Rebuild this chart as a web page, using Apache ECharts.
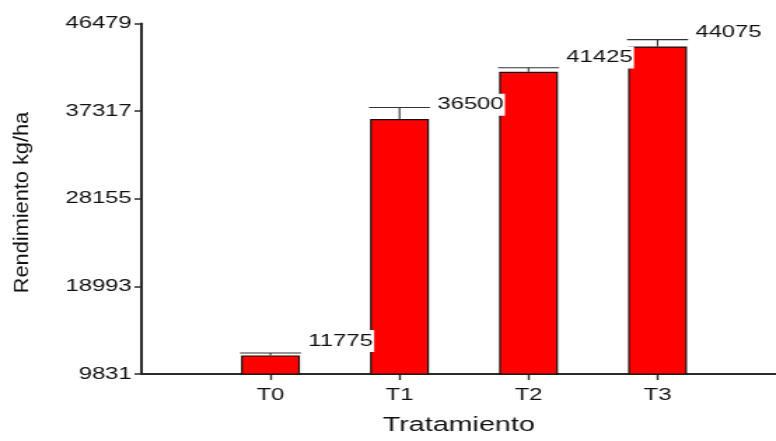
<!DOCTYPE html>
<html>
<head>
<meta charset="utf-8">
<script src="https://cdn.jsdelivr.net/npm/echarts@6/dist/echarts.min.js"></script>
<style>
  html, body { margin: 0; padding: 0; background: #fff; }
  #wrap { width: 776px; height: 441px; overflow: hidden; position: relative; }
  /* the chart is laid out narrow and widened horizontally */
  #chart { width: 554px; height: 441px; transform: scaleX(1.40072); transform-origin: 0 0; }
</style>
</head>
<body>
<div id="wrap"><div id="chart"></div></div>
<script>
// Treatments and mean yield (kg/ha)
const categories = ['T0', 'T1', 'T2', 'T3'];
const rendimiento = [11775, 36500, 41425, 44075];
// upper error bar length (kg/ha)
const errorSuperior = [250, 1200, 430, 720];
// y-axis tick values
const yTicks = [9831, 18993, 28155, 37317, 46479];

const FONT = '"Liberation Sans", Arial, sans-serif';
const positions = categories.map((c, i) => i + 1);
const barData = positions.map((p, i) => [p, rendimiento[i]]);
const errData = positions.map((p, i) => [p, rendimiento[i], errorSuperior[i]]);

const chart = echarts.init(document.getElementById('chart'));

chart.setOption({
  animation: false,
  backgroundColor: '#fff',
  grid: { left: 101, right: 0, top: 23.5, height: 357.5, containLabel: false },
  xAxis: {
    type: 'value',
    min: 0,
    max: 4.918,
    interval: 1,
    splitLine: { show: false },
    axisLine: { show: true, onZero: false, lineStyle: { color: '#2b2b2b', width: 2 } },
    axisTick: { show: true, customValues: positions, length: 6, lineStyle: { color: '#2b2b2b', width: 1.4 } },
    axisLabel: {
      customValues: positions,
      margin: 13,
      color: '#111',
      fontFamily: FONT,
      fontSize: 17,
      formatter: v => categories[Math.round(v) - 1] || ''
    },
    name: 'Tratamiento',
    nameLocation: 'middle',
    nameGap: 41,
    nameTextStyle: { color: '#111', fontFamily: FONT, fontSize: 20.5 }
  },
  yAxis: {
    type: 'value',
    min: yTicks[0],
    max: yTicks[yTicks.length - 1],
    splitLine: { show: false },
    axisLine: { show: true, lineStyle: { color: '#2b2b2b', width: 2 } },
    axisTick: { show: true, customValues: yTicks, length: 5, lineStyle: { color: '#2b2b2b', width: 1.5 } },
    axisLabel: {
      customValues: yTicks,
      margin: 7,
      color: '#111',
      fontFamily: FONT,
      fontSize: 17,
      formatter: v => String(v)
    }
  },
  graphic: [{
    type: 'text',
    x: 15.6,
    y: 202.5,
    rotation: Math.PI / 2,
    scaleX: 1.45,
    style: {
      text: 'Rendimiento kg/ha',
      font: '15px ' + FONT,
      fill: '#111',
      align: 'center',
      verticalAlign: 'middle'
    }
  }],
  series: [
    {
      type: 'bar',
      data: barData,
      barWidth: 42,
      z: 2,
      itemStyle: { color: '#ff0000', borderColor: '#111', borderWidth: 1.2 }
    },
    {
      type: 'custom',
      data: errData,
      z: 5,
      renderItem: function (params, api) {
        const x = api.value(0), v = api.value(1), e = api.value(2);
        const base = api.coord([x, v]);
        const top = api.coord([x, v + e]);
        const half = 21.8;
        return {
          type: 'group',
          children: [
            { type: 'line', shape: { x1: base[0], y1: base[1], x2: top[0], y2: top[1] },
              style: { stroke: '#333', lineWidth: 1.1 } },
            { type: 'line', shape: { x1: base[0] - half, y1: top[1], x2: base[0] + half, y2: top[1] },
              style: { stroke: '#333', lineWidth: 1.1 } },
            { type: 'text', x: base[0] + 26, y: base[1] - 14.3,
              style: { text: String(v), font: '17px ' + FONT, fill: '#111',
                       align: 'left', verticalAlign: 'middle',
                       backgroundColor: '#fff', padding: [2, 1, 3, 1] } }
          ]
        };
      }
    }
  ]
});
</script>
</body>
</html>
